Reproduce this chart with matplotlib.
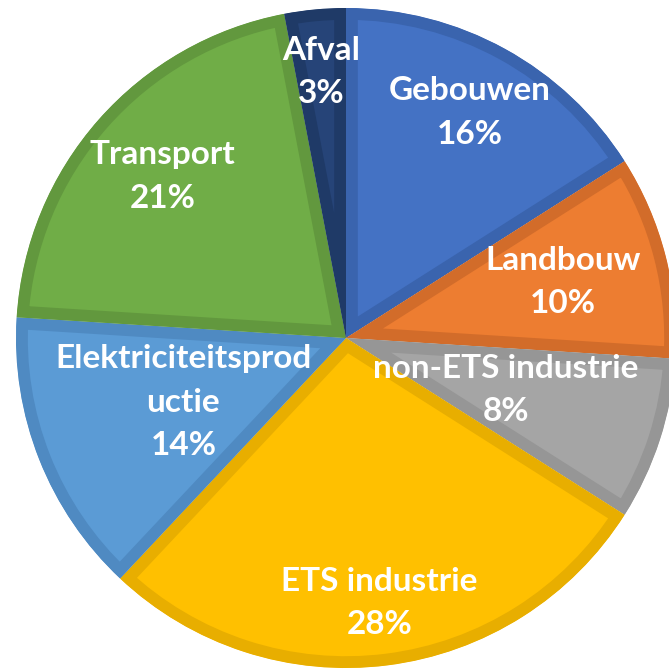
import numpy as np
import matplotlib.pyplot as plt

labels = ["Gebouwen", "Landbouw", "non-ETS industrie", "ETS industrie",
          "Elektriciteitsprod\nuctie", "Transport", "Afval"]
shares = [16, 10, 8, 28, 14, 21, 3]
colors = ["#4472C4", "#ED7D31", "#A5A5A5", "#FFC000", "#5B9BD5", "#70AD47", "#264478"]
edges = ["#3A64AE", "#D26C2A", "#969696", "#E8AE00", "#4F8AC2", "#62983E", "#1F3A67"]
label_r = [0.78, 0.68, 0.51, 0.81, 0.53, 0.74, 0.81]

fig = plt.figure(figsize=(6.69, 6.69), dpi=100)
ax = fig.add_axes([0, 0, 1, 1])

wedges, _ = ax.pie(shares, colors=colors, startangle=90, counterclock=False,
                   radius=1, wedgeprops=dict(linewidth=17, joinstyle="miter"))

for w, lab, s, r in zip(wedges, labels, shares, label_r):
    ang = np.deg2rad((w.theta1 + w.theta2) / 2)
    ax.text(r * np.cos(ang), r * np.sin(ang), f"{lab}\n{s}%",
            ha="center", va="center", color="white", fontsize=24,
            fontweight="bold", family="Lato", linespacing=1.6)

px = 330.0
cx, cy = 346, 338
ax.set_xlim(-cx / px, (669 - cx) / px)
ax.set_ylim(-(669 - cy) / px, cy / px)
ax.set_aspect("equal")
ax.axis("off")

# darker border drawn only inside each slice
for w, ec in zip(wedges, edges):
    w.set_edgecolor(ec)
    w.set_clip_on(True)
    w.set_clip_path(w)

fig.savefig("out.png", dpi=100)
